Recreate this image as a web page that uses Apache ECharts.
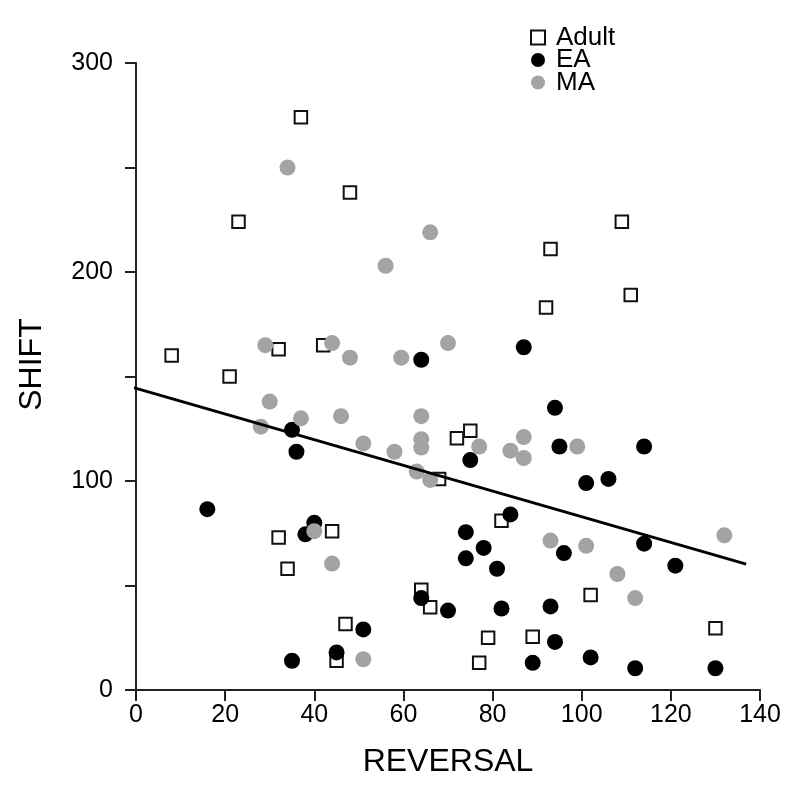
<!DOCTYPE html>
<html>
<head>
<meta charset="utf-8">
<title>SHIFT vs REVERSAL</title>
<script src="https://cdn.jsdelivr.net/npm/echarts@6/dist/echarts.min.js"></script>
<style>
  html, body { margin: 0; padding: 0; background: #fff; }
  #chart { width: 800px; height: 800px; }
</style>
</head>
<body>
<div id="chart"></div>
<script>
// [REVERSAL, SHIFT]
const adult = [
  [37, 274], [48, 238], [23, 224], [109, 224], [93, 211], [111, 189], [92, 183],
  [8, 160], [21, 150], [32, 163], [42, 165], [68, 101], [75, 124], [72, 120.5],
  [82, 81], [102, 45.5], [79, 25], [89, 25.5], [77, 13], [130, 29.5], [32, 73],
  [44, 76], [34, 58], [64, 48], [66, 39.6], [47, 31.6], [45, 14]
];
const ea = [
  [87, 164], [64, 158], [35, 124.5], [36, 114], [94, 135], [75, 110], [95, 116.5],
  [114, 116.5], [101, 99], [106, 101], [84, 84], [74, 75.5], [78, 68], [74, 63],
  [81, 58], [96, 65.5], [114, 70], [121, 59.5], [70, 38], [82, 39], [93, 40],
  [94, 23], [89, 13], [102, 15.6], [112, 10.4], [130, 10.4], [16, 86.5], [40, 80],
  [38, 74.5], [64, 44], [51, 29], [45, 18], [35, 14]
];
const ma = [
  [34, 250], [66, 219], [56, 203], [70, 166], [59.5, 159], [29, 165], [44, 166],
  [48, 159], [30, 138], [28, 126], [37, 130], [46, 131], [51, 118], [58, 114],
  [64, 131], [64, 120], [64, 116], [63, 104.5], [66, 100.5], [77, 116.5], [87, 121],
  [84, 114.5], [87, 111], [99, 116.5], [93, 71.5], [101, 69], [132, 74], [108, 55.5],
  [112, 44], [40, 76], [44, 60.5], [51, 14.7]
];
// fit line end points
const fitLine = [[-1.86, 145.5], [136.9, 60.2]];

const xTicks = { min: 0, max: 140, step: 20 };
const yTicks = { min: 0, max: 300, step: 50, labelStep: 100 };

const FONT = "'Liberation Sans', Arial, sans-serif";
const GREY = "#a3a3a3";

const chart = echarts.init(document.getElementById("chart"));

chart.setOption({
  backgroundColor: "#fff",
  animation: false,
  grid: {
    left: 136,
    right: 40,
    top: 63,
    bottom: 110,
  },
  legend: {
    orient: "vertical",
    left: 530,
    top: 24.5,
    padding: 0,
    itemWidth: 14,
    itemHeight: 14,
    itemGap: -3.5,
    data: ["Adult", "EA", "MA"],
    textStyle: {
      fontFamily: FONT,
      fontSize: 26,
      color: "#000",
      padding: [0, 0, 0, 6],
    },
  },
  xAxis: {
    type: "value",
    min: xTicks.min,
    max: xTicks.max,
    interval: xTicks.step,
    name: "REVERSAL",
    nameLocation: "middle",
    nameGap: 56,
    nameTextStyle: { fontFamily: FONT, fontSize: 32, color: "#000" },
    axisLine: { onZero: false, lineStyle: { color: "#222", width: 2 } },
    axisTick: { length: 11, lineStyle: { color: "#222", width: 2 } },
    axisLabel: { margin: 13, fontFamily: FONT, fontSize: 25, color: "#000" },
    splitLine: { show: false },
  },
  yAxis: {
    type: "value",
    min: yTicks.min,
    max: yTicks.max,
    interval: yTicks.step,
    offset: 9,
    name: "SHIFT",
    nameLocation: "middle",
    nameGap: 79,
    nameTextStyle: {
      fontFamily: FONT,
      fontSize: 32,
      color: "#000",
      padding: [0, 0, 0, 24],
    },
    axisLine: { show: true, lineStyle: { color: "#222", width: 2 } },
    axisTick: { show: true, length: 11, lineStyle: { color: "#222", width: 2 } },
    axisLabel: {
      margin: 14,
      fontFamily: FONT,
      fontSize: 25,
      color: "#000",
      formatter: function (v) {
        return v % yTicks.labelStep === 0 ? String(v) : "";
      },
    },
    splitLine: { show: false },
  },
  series: [
    {
      name: "Adult",
      type: "scatter",
      symbol: "rect",
      symbolSize: 12.5,
      data: adult,
      itemStyle: { color: "#fff", borderColor: "#111", borderWidth: 2, opacity: 1 },
      z: 2,
    },
    {
      name: "EA",
      type: "scatter",
      symbol: "circle",
      symbolSize: 16,
      data: ea,
      itemStyle: { color: "#000", opacity: 1 },
      z: 3,
    },
    {
      name: "MA",
      type: "scatter",
      symbol: "circle",
      symbolSize: 16,
      data: ma,
      itemStyle: { color: GREY, opacity: 1 },
      z: 4,
    },
    {
      name: "fit",
      type: "line",
      data: fitLine,
      clip: false,
      symbol: "none",
      silent: true,
      lineStyle: { color: "#000", width: 3 },
      z: 5,
    },
  ],
});
</script>
</body>
</html>
